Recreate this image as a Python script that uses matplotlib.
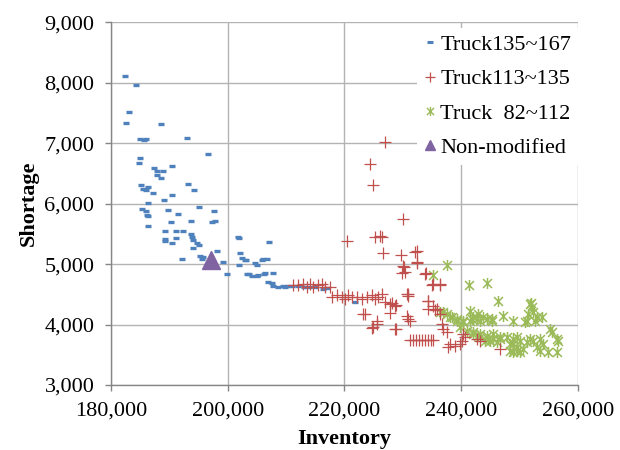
import numpy as np
import matplotlib
matplotlib.use("Agg")
import matplotlib.pyplot as plt
from matplotlib.path import Path
from matplotlib.lines import Line2D

# Truck135~167 (blue dashes)
blue_x = [182400, 184285, 183085, 182630, 188520, 184900, 185600, 186000, 192970, 184970,
          184745, 196630, 187420, 187940, 188960, 190400, 187830, 188520, 185090, 186390,
          185430, 186000, 187250, 193200, 194280, 190460, 189090, 186340, 195030, 185370,
          186000, 189720, 197650, 191480, 186110, 186340, 193660, 190280, 197260, 197770,
          186340, 189260, 191140, 192290, 193710, 193940, 194110, 189260, 189260, 191090,
          190400, 194690, 195080, 194000, 192220, 195260, 195550, 198110, 199250, 199830,
          201990, 207130, 202060, 202400, 203140, 201990, 204680, 204970, 206100, 206690,
          205830, 203260, 204120, 204970, 206400, 206960, 207820, 208680, 195830, 201820,
          202970, 203680, 205120, 206250, 207690, 207540, 209820, 209500, 210300, 211000,
          212000, 213000, 214000, 215000, 216400, 217000, 221820]
blue_y = [8105, 7965, 7524, 7342, 7314, 7065, 7060, 7065, 7093, 6762,
          6667, 6828, 6590, 6545, 6545, 6618, 6468, 6430, 6302, 6280,
          6248, 6225, 6181, 6331, 6220, 6137, 6065, 6004, 5949, 5904,
          5883, 5900, 5883, 5833, 5817, 5793, 5717, 5694, 5705, 5717,
          5634, 5551, 5551, 5551, 5495, 5445, 5402, 5412, 5386, 5435,
          5346, 5346, 5313, 5270, 5087, 5142, 5087, 5213, 5031, 4838,
          5440, 5374, 5180, 5104, 5071, 4988, 5014, 4993, 5080, 5080,
          5071, 4838, 4810, 4810, 4849, 4699, 4644, 4628, 5114, 5445,
          5071, 4838, 4822, 4838, 4855, 4683, 4628, 4640, 4640, 4635,
          4630, 4625, 4620, 4615, 4590, 4600, 4368]

# Truck113~135 (red plus)
red_x = [226970, 224400, 224850, 230100, 220500, 225250, 226110, 226400, 226570, 229710,
         232400, 232110, 232400, 230220, 229820, 230100, 230390, 232500, 233820, 233990,
         234970, 235250, 236390, 236390, 230960, 230680, 230960, 234280, 234400, 235250,
         235820, 236390, 234400, 235540, 230680, 231250, 236680, 236970, 237540, 240390,
         240680, 240110, 238110, 238970, 239830, 237820, 243250, 246680, 242680, 223250,
         227820, 228850, 228110, 230960, 225540, 224970, 224680, 228850,
         231250, 231800, 232300, 232800, 233300, 233800, 234300, 234800, 235200,
         211250, 212110, 212970, 213540, 214110, 214680, 215530, 216110, 216680, 217540,
         217830, 218680, 219540, 220110, 220680, 221250, 222110, 222970, 223820, 224680,
         225250, 225820, 226400, 226970, 227820, 228680, 223530, 225540, 228680]
red_y = [7020, 6662, 6302, 5750, 5379, 5445, 5473, 5445, 5187, 5158,
         5225, 5197, 5031, 4948, 4849, 4976, 4865, 5014, 4838, 4849,
         4656, 4672, 4672, 4656, 4507, 4507, 4479, 4396, 4396, 4313,
         4258, 4175, 4258, 4242, 4147, 4064, 4010, 3926, 3870, 3843,
         3788, 3732, 3678, 3649, 3678, 3622, 3732, 3594, 3760, 4175,
         4185, 4330, 4350, 4092, 4064, 3965, 3943, 3926,
         3748, 3748, 3748, 3748, 3748, 3748, 3748, 3748, 3748,
         4650, 4650, 4678, 4623, 4678, 4623, 4650, 4678, 4623, 4623,
         4457, 4484, 4457, 4429, 4484, 4457, 4457, 4429, 4457, 4484,
         4429, 4457, 4512, 4368, 4341, 4313, 4180, 4015, 3932]

# Truck 82~112 (green star)
green_x = [237540, 235250, 241360, 244400, 246290, 251940, 252110, 252390, 252960, 253820,
           252680, 236970, 238110, 239250, 240390, 241530, 242680, 244400, 245250, 247240,
           248960, 251240, 255250, 256390, 256670, 255540, 253530, 254960, 256390, 248390,
           249540, 248960, 242960, 244110, 245540, 246680, 249540, 251820, 251820, 251530,
           242110, 243820, 245250, 250960, 242110, 243250, 244400, 245540, 246680, 247820,
           248960, 250110, 251250, 252390, 253530, 244970, 246110, 248390, 249540, 250680,
           248960, 250110, 252960, 254100, 236390, 237540, 238400, 239250, 240390, 241820,
           243250, 239820, 240970, 242110, 243250, 244680, 241530, 242960]
green_y = [4993, 4827, 4661, 4683, 4396, 4350, 4284, 4202, 4119, 4130,
           4064, 4202, 4119, 4092, 4064, 4064, 4092, 4092, 4064, 4147,
           4064, 4064, 3926, 3760, 3732, 3882, 3567, 3539, 3539, 3567,
           3567, 3678, 3816, 3732, 3760, 3760, 3788, 3760, 4341, 4175,
           4119, 4119, 4092, 4036, 3870, 3843, 3816, 3843, 3788, 3788,
           3760, 3732, 3705, 3732, 3760, 3732, 3705, 3678, 3622, 3594,
           3539, 3539, 3622, 3678, 4202, 4175, 4119, 4064, 4036, 4092,
           4064, 3953, 3898, 3843, 3788, 3760, 4230, 4175]

# Non-modified
base_x = [197100]
base_y = [5075]

labels = ["Truck135~167", "Truck113~135", "Truck  82~112", "Non-modified"]

plt.rcParams['font.family'] = ['Liberation Serif', 'DejaVu Serif']

BLUE, RED, GREEN, PURPLE = '#4F81BD', '#C0504D', '#9BBB59', '#8064A2'

star = Path([(-1, -1), (1, 1), (-1, 1), (1, -1), (0, -1.25), (0, 1.25)],
            [Path.MOVETO, Path.LINETO, Path.MOVETO, Path.LINETO, Path.MOVETO, Path.LINETO])

fig = plt.figure(figsize=(6.2, 4.5), dpi=100)
ax = fig.add_axes([0.179, 0.1444, 0.753, 0.806])

ax.plot(blue_x, blue_y, ls='none', marker='_', ms=5, mew=2.4, color=BLUE)
ax.plot(green_x, green_y, ls='none', marker=star, ms=8, mew=1.1, mfc='none', mec=GREEN)
ax.plot(red_x, red_y, ls='none', marker='+', ms=8, mew=0.9, color=RED)
ax.plot(base_x, base_y, ls='none', marker='^', ms=13, color=PURPLE, mec=PURPLE)

ax.set_xlim(180000, 260000)
ax.set_ylim(3000, 9000)
ax.set_xticks(np.arange(180000, 260001, 20000))
ax.set_yticks(np.arange(3000, 9001, 1000))
ax.xaxis.set_major_formatter(matplotlib.ticker.StrMethodFormatter('{x:,.0f}'))
ax.yaxis.set_major_formatter(matplotlib.ticker.StrMethodFormatter('{x:,.0f}'))
ax.grid(True, color='#b3b3b3', lw=1.0)
ax.set_axisbelow(True)
for s in ['top', 'right']:
    ax.spines[s].set_visible(False)
for s in ['left', 'bottom']:
    ax.spines[s].set_color('#868686')
    ax.spines[s].set_linewidth(1.0)
ax.tick_params(direction='out', length=4, width=1, color='#868686', labelsize=16, pad=8)

ax.set_xlabel('Inventory', fontsize=16, fontweight='bold', labelpad=6)
ax.set_ylabel('Shortage', fontsize=16, fontweight='bold', labelpad=4)

handles = [
    Line2D([], [], ls='none', marker='_', ms=4.5, mew=2.2, color=BLUE),
    Line2D([], [], ls='none', marker='+', ms=7, mew=0.9, color=RED),
    Line2D([], [], ls='none', marker=star, ms=6.5, mew=1.0, mfc='none', mec=GREEN),
    Line2D([], [], ls='none', marker='^', ms=7, color=PURPLE, mec=PURPLE),
]
leg = ax.legend(handles, labels, loc='upper left',
                bbox_to_anchor=(0.655, 0.985), fontsize=16, frameon=True, fancybox=False,
                edgecolor='none', facecolor='white', framealpha=1,
                handlelength=0.6, handletextpad=0.15, labelspacing=0.62, borderpad=0.3,
                borderaxespad=0)

fig.savefig('out.png', dpi=100)
